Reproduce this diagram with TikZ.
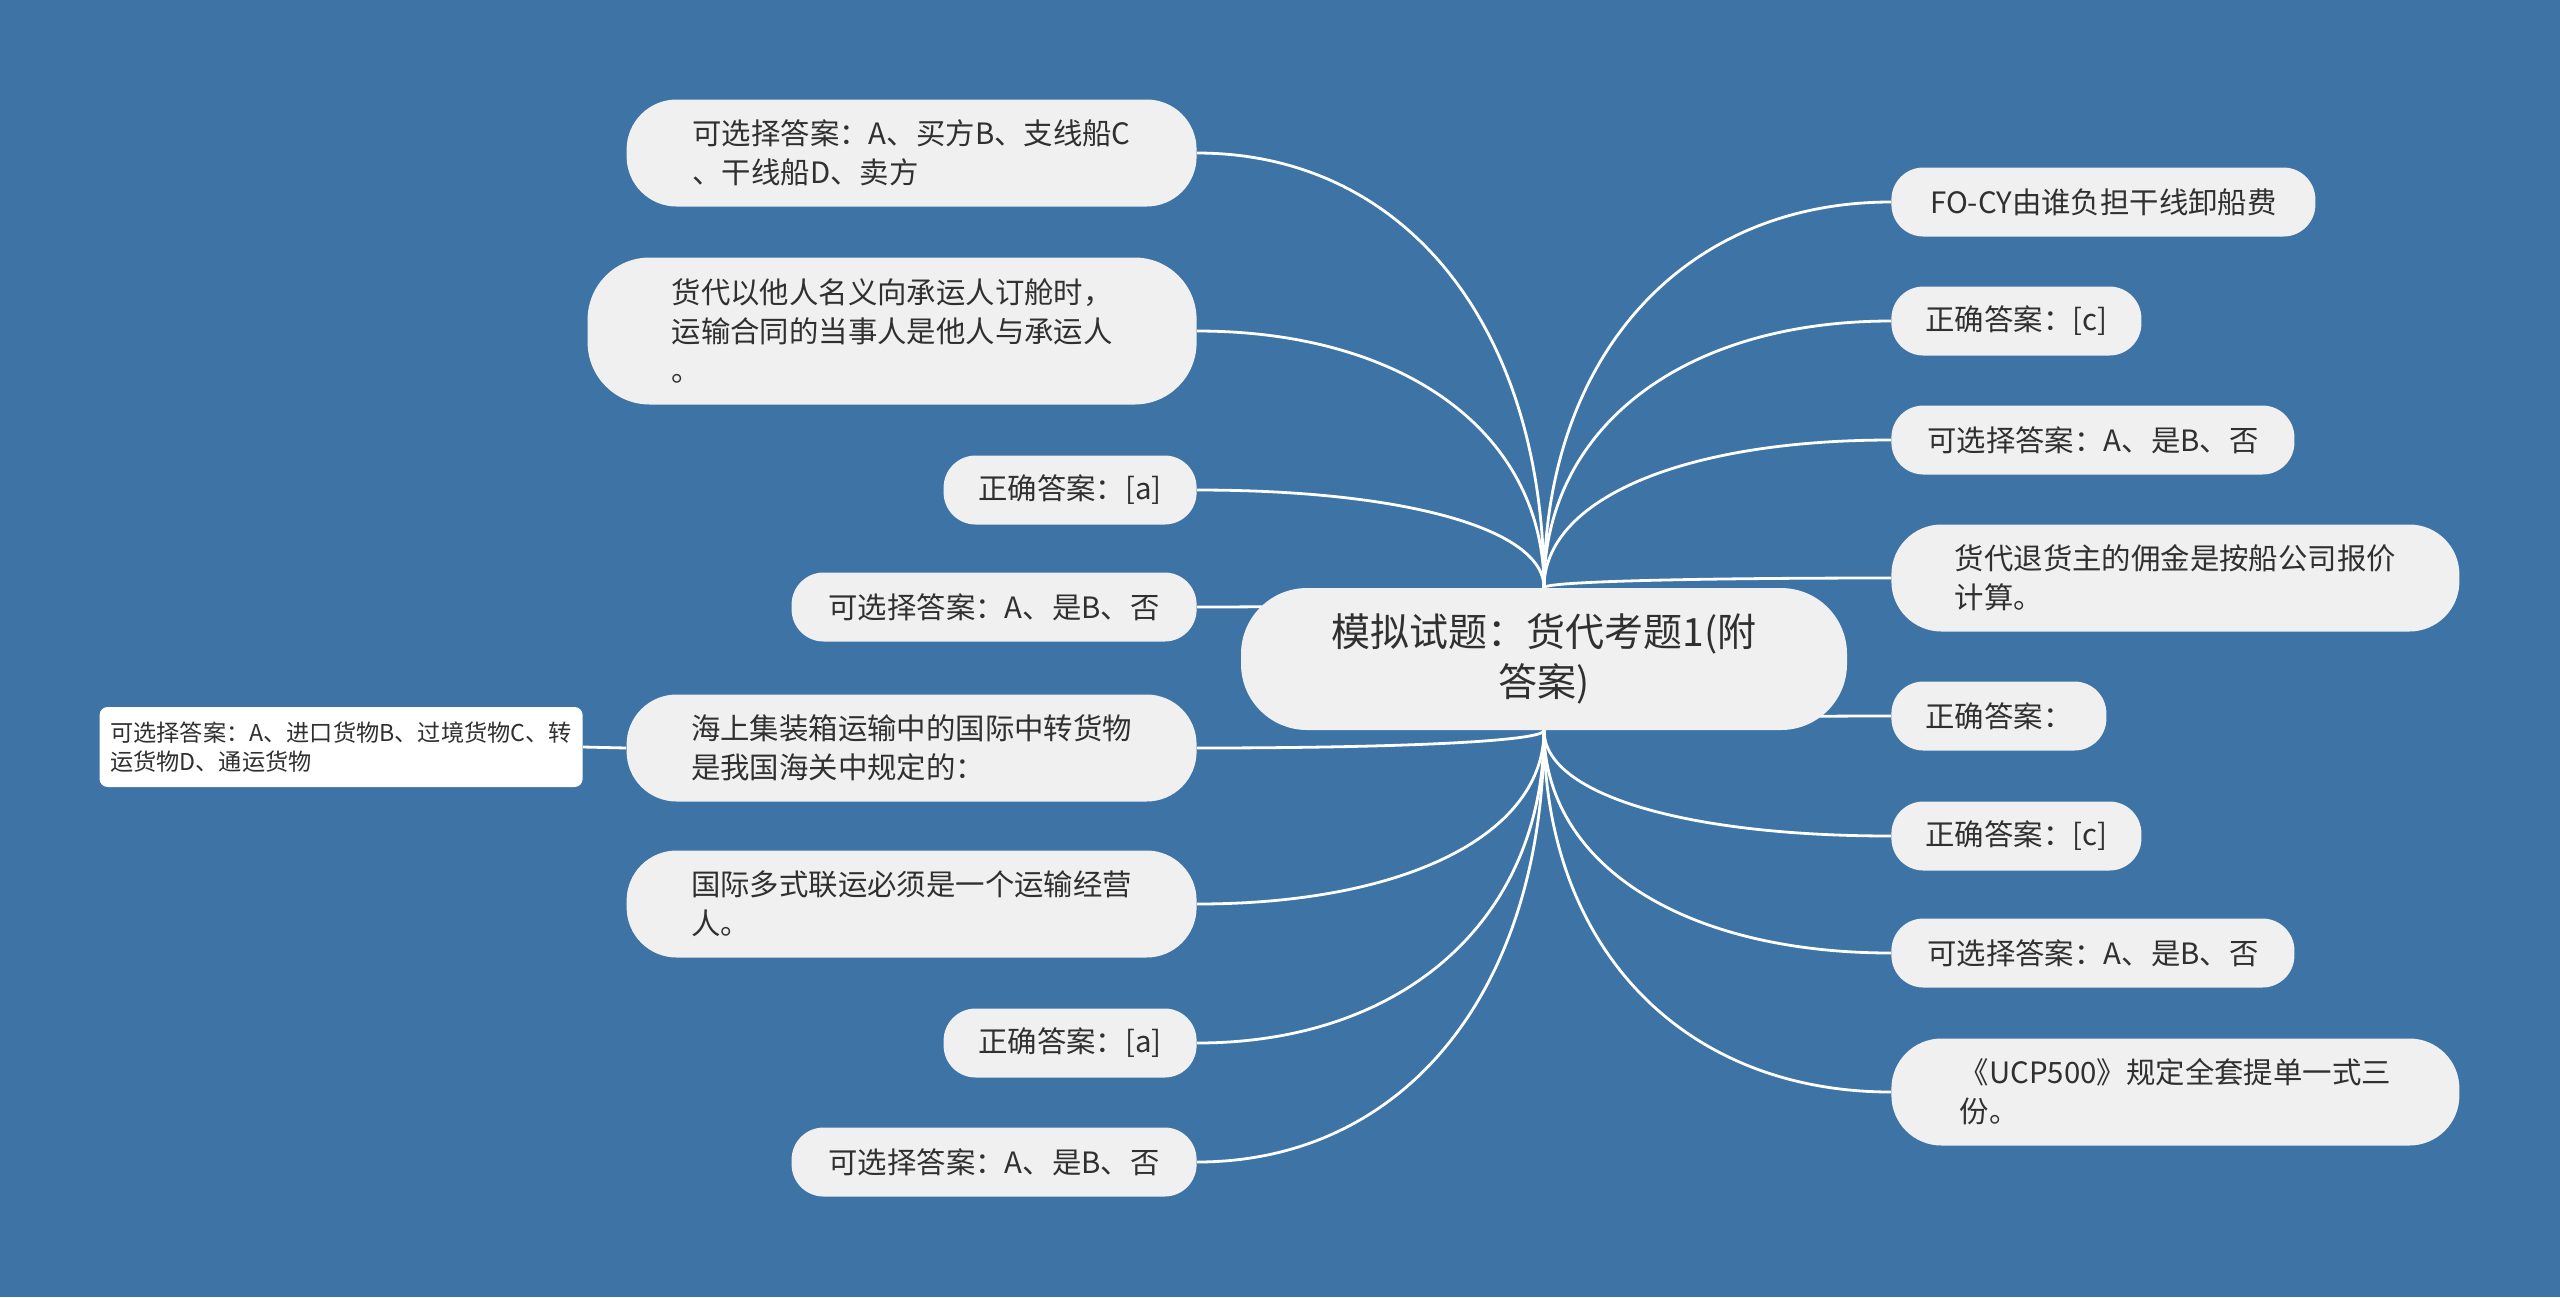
\documentclass[tikz,border=0pt]{standalone}
\usepackage{fontspec}
\setmainfont{Noto Sans CJK SC}
\usepackage{tikz}
\usetikzlibrary{positioning, calc, backgrounds}
\definecolor{bgblue}{HTML}{3D73A5}
\definecolor{leafgray}{HTML}{F0F0F0}
\definecolor{inkgray}{HTML}{303030}
\tikzstyle{topic} = [rectangle, rounded corners=33pt, minimum width=303pt, minimum height=71pt, align=center, fill=leafgray, text=inkgray, font=\fontsize{19.5}{25.3}\selectfont]
\tikzstyle{leaf} = [rectangle, rounded corners=16pt, minimum height=34.5pt, inner xsep=0pt, align=left, fill=leafgray, text=inkgray, font=\fontsize{14.7}{19.5}\selectfont]
\tikzstyle{twoline} = [rounded corners=25pt, minimum height=53.5pt]
\tikzstyle{threeline} = [rounded corners=31pt, minimum height=73.5pt]
\tikzstyle{note} = [rectangle, rounded corners=4pt, minimum width=241.5pt, minimum height=40pt, inner xsep=0pt, align=left, fill=white, text=inkgray, font=\fontsize{11.6}{14.7}\selectfont]
\tikzstyle{link} = [draw=white, line width=1.4pt]

\begin{document}
\begin{tikzpicture}[x=0.5pt, y=-0.5pt]
  \node[topic] (root) at (1544,659) {模拟试题：货代考题1(附\\答案)};

  % left side
  \node[leaf, twoline, minimum width=285pt, anchor=east] (l1) at (1197,153) {可选择答案：A、买方B、支线船C\\、干线船D、卖方};
  \node[leaf, threeline, minimum width=304.5pt, anchor=east] (l2) at (1197,331) {货代以他人名义向承运人订舱时，\\运输合同的当事人是他人与承运人\\。};
  \node[leaf, minimum width=126.5pt, anchor=east] (l3) at (1197,490) {正确答案：[a]};
  \node[leaf, minimum width=202.5pt, anchor=east] (l4) at (1197,607) {可选择答案：A、是B、否};
  \node[leaf, twoline, minimum width=285pt, anchor=east] (l5) at (1197,748) {海上集装箱运输中的国际中转货物\\是我国海关中规定的：};
  \node[leaf, twoline, minimum width=285pt, anchor=east] (l6) at (1197,904) {国际多式联运必须是一个运输经营\\人。};
  \node[leaf, minimum width=126.5pt, anchor=east] (l7) at (1197,1043) {正确答案：[a]};
  \node[leaf, minimum width=202.5pt, anchor=east] (l8) at (1197,1162) {可选择答案：A、是B、否};
  \node[note, anchor=east] (l5note) at (583,747) {可选择答案：A、进口货物B、过境货物C、转\\运货物D、通运货物};

  % right side
  \node[leaf, minimum width=212pt, anchor=west] (r1) at (1891,202) {FO-CY由谁负担干线卸船费};
  \node[leaf, minimum width=125pt, anchor=west] (r2) at (1891,321) {正确答案：[c]};
  \node[leaf, minimum width=201.5pt, anchor=west] (r3) at (1891,440) {可选择答案：A、是B、否};
  \node[leaf, twoline, minimum width=284pt, anchor=west] (r4) at (1891,578) {货代退货主的佣金是按船公司报价\\计算。};
  \node[leaf, minimum width=107.5pt, anchor=west] (r5) at (1891,716) {正确答案：};
  \node[leaf, minimum width=125pt, anchor=west] (r6) at (1891,836) {正确答案：[c]};
  \node[leaf, minimum width=201.5pt, anchor=west] (r7) at (1891,953) {可选择答案：A、是B、否};
  \node[leaf, twoline, minimum width=284pt, anchor=west] (r8) at (1891,1092) {《UCP500》规定全套提单一式三\\份。};

  \begin{scope}[on background layer]
    \fill[bgblue] (0,0) rectangle (2560,1297);
    \foreach \n in {l1,l2,l3,l4}
      \draw[link] (root.north) .. controls ($(root.north)!.6!(root.north |- \n.east)$) and ($(\n.east)!.6!(root.north |- \n.east)$) .. (\n.east);
    \foreach \n in {l5,l6,l7,l8}
      \draw[link] (root.south) .. controls ($(root.south)!.6!(root.south |- \n.east)$) and ($(\n.east)!.6!(root.south |- \n.east)$) .. (\n.east);
    \foreach \n in {r1,r2,r3,r4}
      \draw[link] (root.north) .. controls ($(root.north)!.6!(root.north |- \n.west)$) and ($(\n.west)!.6!(root.north |- \n.west)$) .. (\n.west);
    \foreach \n in {r5,r6,r7,r8}
      \draw[link] (root.south) .. controls ($(root.south)!.6!(root.south |- \n.west)$) and ($(\n.west)!.6!(root.south |- \n.west)$) .. (\n.west);
    \draw[link] (l5.west) -- (l5note.east);
  \end{scope}
\end{tikzpicture}
\end{document}
